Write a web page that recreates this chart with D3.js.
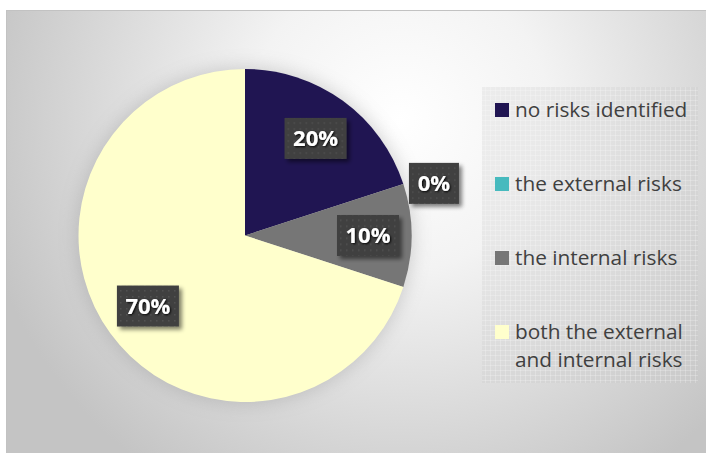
<!DOCTYPE html>
<html>
<head>
<meta charset="utf-8">
<script src="https://cdn.jsdelivr.net/npm/d3@7"></script>
<style>
  html, body { margin: 0; padding: 0; background: #ffffff; }
  svg { display: block; }
</style>
</head>
<body>
<svg id="chart" width="706" height="453"></svg>
<script>
// Share of responses by risk type (percent)
const categories = ["no risks identified", "the external risks", "the internal risks", "both the external and internal risks"];
const legendLines = [["no risks identified"], ["the external risks"], ["the internal risks"], ["both the external", "and internal risks"]];
const values = [20, 0, 10, 70];
const colors = ["#201552", "#47babe", "#767676", "#ffffcc"];

const W = 706, H = 453;
const svg = d3.select("#chart");
const defs = svg.append("defs");

// Chart area background: soft radial light
const bg = defs.append("radialGradient").attr("id", "bgGrad")
  .attr("gradientUnits", "userSpaceOnUse")
  .attr("cx", 400).attr("cy", 120).attr("r", 430);
bg.append("stop").attr("offset", "0").attr("stop-color", "#ffffff");
bg.append("stop").attr("offset", "0.35").attr("stop-color", "#f3f3f3");
bg.append("stop").attr("offset", "1").attr("stop-color", "#c4c4c4");

// Pie glow
const glow = defs.append("filter").attr("id", "pieGlow")
  .attr("x", "-30%").attr("y", "-30%").attr("width", "160%").attr("height", "160%");
glow.append("feGaussianBlur").attr("stdDeviation", 9);

// Label box shadow
const sh = defs.append("filter").attr("id", "boxShadow")
  .attr("x", "-30%").attr("y", "-30%").attr("width", "170%").attr("height", "170%");
sh.append("feGaussianBlur").attr("in", "SourceAlpha").attr("stdDeviation", 2).attr("result", "b");
sh.append("feOffset").attr("in", "b").attr("dx", 3).attr("dy", 3).attr("result", "o");
sh.append("feComponentTransfer").attr("in", "o").attr("result", "o2")
  .append("feFuncA").attr("type", "linear").attr("slope", 0.5);
const shm = sh.append("feMerge");
shm.append("feMergeNode").attr("in", "o2");
shm.append("feMergeNode").attr("in", "SourceGraphic");

// Text shadow for label values
const ts = defs.append("filter").attr("id", "textShadow")
  .attr("x", "-20%").attr("y", "-20%").attr("width", "150%").attr("height", "150%");
ts.append("feGaussianBlur").attr("in", "SourceAlpha").attr("stdDeviation", 0.8).attr("result", "b");
ts.append("feOffset").attr("in", "b").attr("dx", 1).attr("dy", 1).attr("result", "o");
const tsm = ts.append("feMerge");
tsm.append("feMergeNode").attr("in", "o");
tsm.append("feMergeNode").attr("in", "SourceGraphic");

// Dotted texture for label boxes
const dots = defs.append("pattern").attr("id", "dots")
  .attr("patternUnits", "userSpaceOnUse").attr("width", 6).attr("height", 6);
dots.append("rect").attr("width", 6).attr("height", 6).attr("fill", "#3f3f3f");
dots.append("rect").attr("x", 2).attr("y", 2).attr("width", 1.5).attr("height", 1.5).attr("fill", "#525252");

// Grid texture for legend box
const grid = defs.append("pattern").attr("id", "grid")
  .attr("patternUnits", "userSpaceOnUse").attr("width", 5).attr("height", 5);
grid.append("rect").attr("width", 5).attr("height", 5).attr("fill", "rgba(200,200,200,0.25)");
grid.append("path").attr("d", "M0,0.5H5M0.5,0V5").attr("stroke", "rgba(255,255,255,0.22)").attr("stroke-width", 1);

// Frame
svg.append("rect").attr("x", 6.5).attr("y", 10.5).attr("width", W).attr("height", H)
  .attr("fill", "url(#bgGrad)").attr("stroke", "#c2c2c2").attr("stroke-width", 1);

// Pie
const cx = 245, cy = 235.5, R = 166.5;
const pie = d3.pie().sort(null).value(d => d)(values);
const arc = d3.arc().innerRadius(0).outerRadius(R);
const g = svg.append("g").attr("transform", `translate(${cx},${cy})`);

g.append("circle").attr("r", R + 2).attr("fill", "#8a8a8a").attr("opacity", 0.35)
  .attr("filter", "url(#pieGlow)");

g.selectAll("path.slice").data(pie).join("path")
  .attr("class", "slice")
  .attr("d", arc)
  .attr("fill", (d, i) => colors[i]);

// Data labels: inside slices, the empty slice pushed outside the rim
const labelArcIn = d3.arc().innerRadius(120).outerRadius(120);
const lab = g.selectAll("g.lab").data(pie).join("g").attr("class", "lab")
  .attr("transform", (d, i) => {
    const mid = d.startAngle + (d.endAngle - d.startAngle) / 2;
    let p;
    if (d.value === 0) {
      const a = mid + 0.045;
      p = [Math.sin(a) * 196, -Math.cos(a) * 196];
    } else if (d.value < 15) {
      p = [Math.sin(mid) * 123, -Math.cos(mid) * 123];
    } else {
      p = labelArcIn.centroid(d);
    }
    return `translate(${p[0]},${p[1]})`;
  });

lab.each(function(d) {
  const s = d3.select(this);
  const txt = d.value + "%";
  const w = d.value >= 10 ? 62 : 50;
  s.append("rect").attr("x", -w / 2).attr("y", -20.5).attr("width", w).attr("height", 41)
    .attr("fill", "url(#dots)").attr("filter", "url(#boxShadow)");
  s.append("text").attr("text-anchor", "middle").attr("dy", "0.36em")
    .attr("font-family", "'Open Sans', sans-serif").attr("font-weight", 700)
    .attr("font-size", 22).attr("fill", "#ffffff").attr("filter", "url(#textShadow)")
    .text(txt);
});

// Legend
const lx = 482, ly = 87, lw = 216, lh = 296;
svg.append("rect").attr("x", lx).attr("y", ly).attr("width", lw).attr("height", lh)
  .attr("fill", "url(#grid)");

const itemY = d3.scalePoint().domain(d3.range(categories.length)).range([110, 332]);
const li = svg.selectAll("g.leg").data(categories).join("g").attr("class", "leg")
  .attr("transform", (d, i) => `translate(${lx + 13},${itemY(i)})`);
li.append("rect").attr("x", 0).attr("y", -7).attr("width", 14).attr("height", 14)
  .attr("fill", (d, i) => colors[i]);
li.append("text")
  .attr("x", 20).attr("y", 7)
  .attr("font-family", "'Open Sans', sans-serif").attr("font-size", 20.8)
  .attr("fill", "#404040")
  .each(function(d, i) {
    const t = d3.select(this);
    legendLines[i].forEach((line, k) => {
      t.append("tspan").attr("x", 20).attr("dy", k === 0 ? 0 : 28).text(line);
    });
  });
</script>
</body>
</html>
